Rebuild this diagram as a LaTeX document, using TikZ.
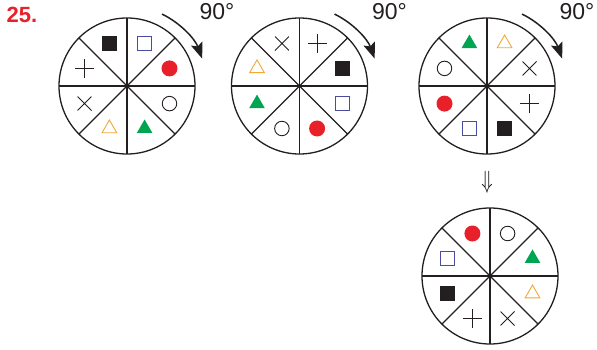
\documentclass[tikz,border=0pt]{standalone}
\usepackage{fontspec}
\setmainfont{Liberation Sans}
\usepackage{tikz}
\usetikzlibrary{arrows.meta,calc,positioning,shapes.geometric,shapes.misc}
\usepackage{xcolor}
\definecolor{inkblack}{HTML}{231F20}
\definecolor{dotred}{HTML}{E8202A}
\definecolor{trigreen}{HTML}{00A551}
\definecolor{triorange}{HTML}{F0A836}
\definecolor{sqblue}{HTML}{4B4BA0}

\tikzset{
  wheel/.style={circle,draw=inkblack,line width=1.3pt,minimum size=136pt,inner sep=0pt,outer sep=0pt},
  spoke/.style={draw=inkblack,line width=1.3pt},
  turn/.style={draw=inkblack,line width=1.5pt,-{Stealth[length=16pt,width=12pt,inset=3pt]}},
  bsq/.style={rectangle,fill=inkblack,minimum size=15pt,inner sep=0pt},
  osq/.style={rectangle,draw=sqblue,line width=0.9pt,minimum size=14pt,inner sep=0pt},
  rdot/.style={circle,fill=dotred,minimum size=16pt,inner sep=0pt},
  odot/.style={circle,draw=inkblack,line width=0.9pt,minimum size=14.5pt,inner sep=0pt},
  gtri/.style={regular polygon,regular polygon sides=3,fill=trigreen,minimum size=18pt,inner sep=0pt},
  otri/.style={regular polygon,regular polygon sides=3,draw=triorange,line width=0.9pt,minimum size=17pt,inner sep=0pt},
  xmark/.style={cross out,draw=inkblack,line width=0.9pt,minimum size=13pt,inner sep=0pt},
  pmark/.style={cross out,draw=inkblack,line width=0.9pt,minimum size=12.5pt,inner sep=0pt,rotate=45},
  deg/.style={font=\fontsize{23}{23}\selectfont,text=inkblack,inner sep=0pt}
}

\begin{document}
\begin{tikzpicture}[x=1pt,y=1pt]
    \useasboundingbox (0,0) rectangle (597,349);

    % problem number
    \node[font=\fontsize{22}{22}\selectfont\bfseries,text=dotred,inner sep=0pt] (num) at (22,334) {25.};

    % wheels
    \node[wheel] (w1) at (127,263) {};
    \node[wheel] (w2) at (299.5,263) {};
    \node[wheel] (w3) at (487,263) {};
    \node[wheel] (w4) at (490,73) {};

    % spokes
    \foreach \w in {w1,w2,w3,w4} {
        \foreach \a in {0,45,90,135} {
            \draw[spoke] ($(\w)+(\a:68)$) -- ($(\w)+(\a+180:68)$);
        }
    }

    % symbols, clockwise from the upper left sector
    \foreach \s [count=\i] in {bsq,osq,rdot,odot,gtri,otri,xmark,pmark}
        \node[\s] (w1-\i) at ($(w1)+(157.5-45*\i:46)$) {};
    \foreach \s [count=\i] in {xmark,pmark,bsq,osq,rdot,odot,gtri,otri}
        \node[\s] (w2-\i) at ($(w2)+(157.5-45*\i:46)$) {};
    \foreach \s [count=\i] in {gtri,otri,xmark,pmark,bsq,osq,rdot,odot}
        \node[\s] (w3-\i) at ($(w3)+(157.5-45*\i:46)$) {};
    \foreach \s [count=\i] in {rdot,odot,gtri,otri,xmark,pmark,bsq,osq}
        \node[\s] (w4-\i) at ($(w4)+(157.5-45*\i:46)$) {};

    % turn arrows
    \foreach \w in {w1,w2,w3} {
        \draw[turn] ($(\w)+(64:80)$) arc[start angle=64,end angle=20,radius=80];
        \node[deg] (\w-deg) at ($(\w)+(90,74)$) {90°};
    }

    \node[font=\fontsize{26}{26}\selectfont,inner sep=0pt] (down) at (487,167) {\scalebox{0.75}[1]{$\Downarrow$}};
\end{tikzpicture}
\end{document}
